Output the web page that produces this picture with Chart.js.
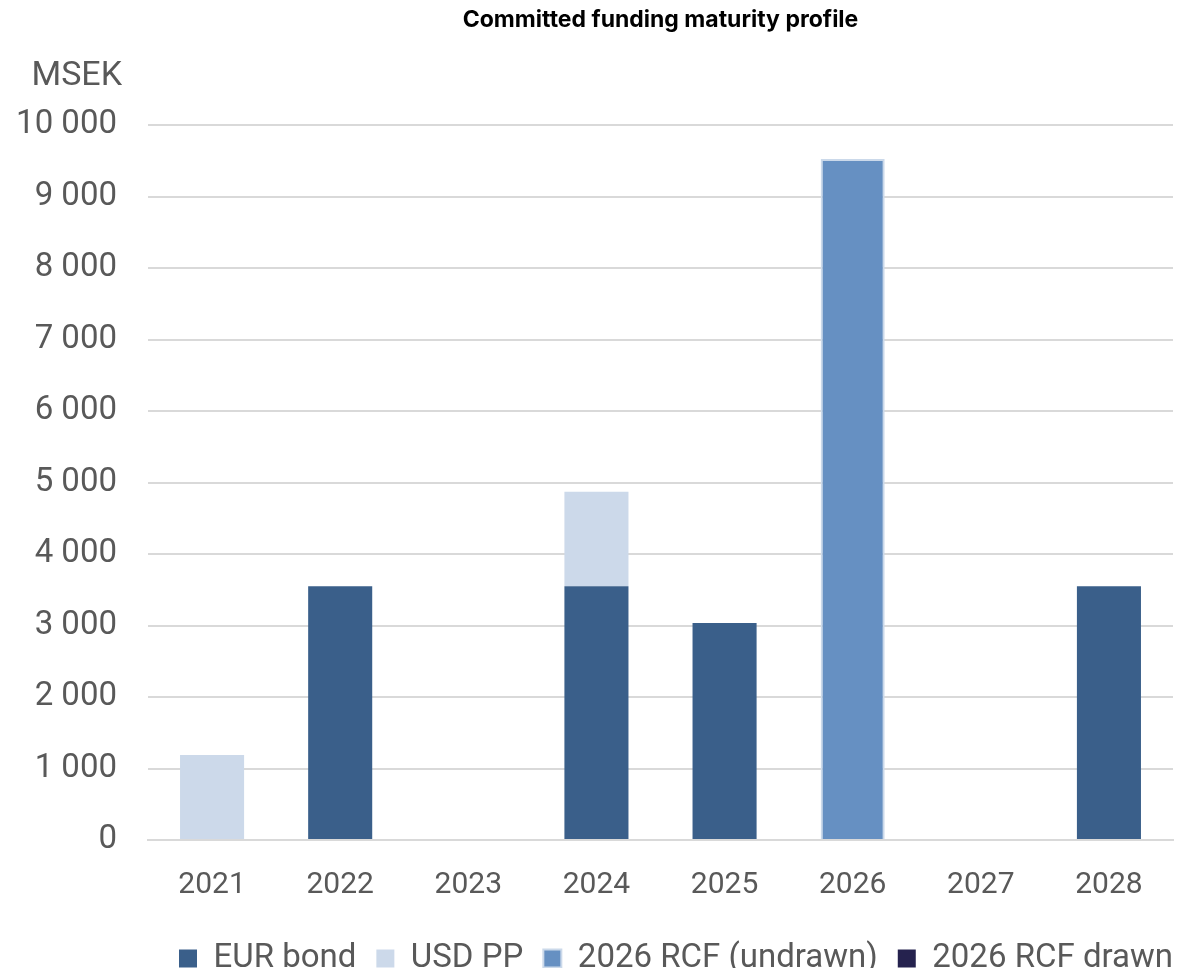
<!DOCTYPE html>
<html lang="en">
<head>
  <meta charset="UTF-8" />
  <title>Committed funding maturity profile</title>
  <script src="https://cdn.jsdelivr.net/npm/chart.js"></script>
  <style>
    body { margin: 0; background: #fff; }
    #wrap { width: 1183px; height: 968px; }
  </style>
</head>
<body>
  <div id="wrap"><canvas id="fundingChart"></canvas></div>
  <script>
    const years = ["2021", "2022", "2023", "2024", "2025", "2026", "2027", "2028"];
    const eurBond = [null, 3550, null, 3550, 3035, null, null, 3550];
    const usdPP = [1190, null, null, 1320, null, null, null, null];
    const rcfUndrawn = [null, null, null, null, null, 9525, null, null];
    const rcfDrawn = [null, null, null, null, null, null, null, null];

    const grey = "#595959";

    // title centred over the plot area, and the unit label above the y axis
    const headings = {
      id: "headings",
      afterLayout(chart) {
        // legend sits flush with the right edge in the original
        chart.legend.left += 20;
        chart.legend.right += 20;
      },
      afterDraw(chart) {
        const ctx = chart.ctx;
        const area = chart.chartArea;
        const y = chart.scales.y;
        ctx.save();
        ctx.font = "bold 23px Inter";
        ctx.fillStyle = "#000";
        ctx.textAlign = "center";
        ctx.textBaseline = "middle";
        ctx.fillText("Committed funding maturity profile", (area.left + area.right) / 2, 20);
        ctx.font = "34px Roboto";
        ctx.fillStyle = grey;
        ctx.textAlign = "right";
        ctx.fillText("MSEK", y.right - 26, area.top - 49);
        ctx.restore();
      }
    };

    new Chart(document.getElementById("fundingChart"), {
      type: "bar",
      data: {
        labels: years,
        datasets: [
          { label: "EUR bond", data: eurBond, backgroundColor: "#3a5f8a" },
          { label: "USD PP", data: usdPP, backgroundColor: "#ccd9ea" },
          { label: "2026 RCF (undrawn)", data: rcfUndrawn, backgroundColor: "#6690c2",
            borderColor: "#cbd9ea", borderWidth: 2 },
          { label: "2026 RCF drawn", data: rcfDrawn, backgroundColor: "#25224e" }
        ]
      },
      options: {
        responsive: true,
        maintainAspectRatio: false,
        animation: false,
        barPercentage: 0.5,
        categoryPercentage: 1,
        layout: { padding: { left: 18, right: 10, top: 125, bottom: -17 } },
        scales: {
          x: {
            stacked: true,
            grid: { display: false },
            border: { color: "#d9d9d9", width: 2 },
            ticks: { color: grey, font: { family: "Roboto", size: 30 }, padding: 19 }
          },
          y: {
            stacked: true,
            min: 0,
            max: 10000,
            afterFit: scale => { scale.width = 130; },
            grid: { color: "#d9d9d9", lineWidth: 2, drawTicks: false },
            border: { display: false },
            ticks: {
              stepSize: 1000,
              color: grey,
              padding: 31,
              font: { family: "Roboto", size: 33 },
              callback: v => v >= 1000 ? Math.floor(v / 1000) + " " + String(v % 1000).padStart(3, "0") : String(v)
            }
          }
        },
        plugins: {
          title: { display: false },
          legend: {
            position: "bottom",
            align: "end",
            labels: {
              color: grey,
              font: { family: "Roboto", size: 33 },
              boxWidth: 18,
              boxHeight: 18,
              padding: 20
            }
          },
          tooltip: { enabled: false }
        }
      },
      plugins: [headings]
    });
  </script>
</body>
</html>
